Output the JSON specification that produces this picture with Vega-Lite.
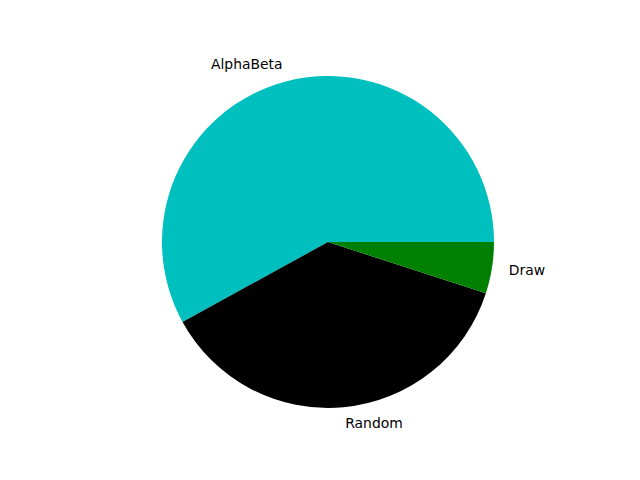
{
  "$schema": "https://vega.github.io/schema/vega-lite/v6.json",
  "autosize": {"type": "fit", "contains": "padding"},
  "width": 640,
  "height": 480,
  "padding": {"left": 16, "top": 4, "right": 0, "bottom": 0},
  "background": "white",
  "view": {"stroke": null},
  "data": {"values": [
    {"label": "AlphaBeta", "value": 58, "idx": 1},
    {"label": "Random", "value": 37, "idx": 2},
    {"label": "Draw", "value": 5, "idx": 3}
  ]},
  "encoding": {
    "theta": {"field": "value", "type": "quantitative", "stack": true, "scale": {"range": [1.5707963, -4.712389]}},
    "order": {"field": "idx", "type": "quantitative"},
    "color": {"field": "label", "type": "nominal",
      "scale": {"domain": ["AlphaBeta", "Random", "Draw"], "range": ["#00bfbf", "#000000", "#008000"]}, "legend": null}
  },
  "layer": [
    {"mark": {"type": "arc", "outerRadius": 166}},
    {"mark": {"type": "text", "radius": 183, "align": "right", "baseline": "middle", "font": "DejaVu Sans", "fontSize": 13.9, "color": "black"},
     "encoding": {"text": {"field": "label"}, "color": {"value": "black"},
       "opacity": {"condition": {"test": "datum.label === 'AlphaBeta'", "value": 1}, "value": 0}}},
    {"mark": {"type": "text", "radius": 183, "align": "left", "baseline": "middle", "font": "DejaVu Sans", "fontSize": 13.9, "color": "black"},
     "encoding": {"text": {"field": "label"}, "color": {"value": "black"},
       "opacity": {"condition": {"test": "datum.label !== 'AlphaBeta'", "value": 1}, "value": 0}}}
  ]
}
